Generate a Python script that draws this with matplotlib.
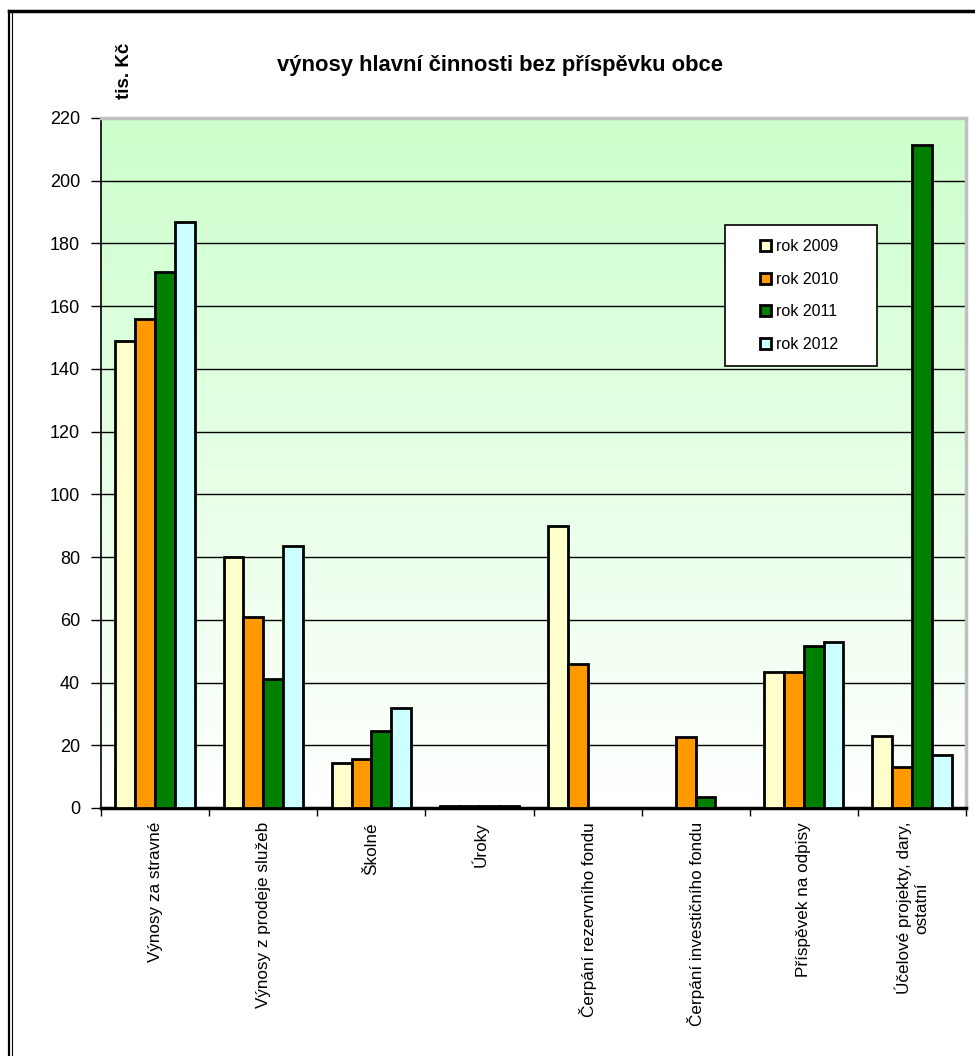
import matplotlib
matplotlib.use("Agg")
import matplotlib.pyplot as plt
import numpy as np
from matplotlib.lines import Line2D
from matplotlib.patches import Rectangle

CATEGORIES = ["Výnosy za stravné", "Výnosy z prodeje služeb", "Školné", "Úroky",
              "Čerpání rezervního fondu", "Čerpání investičního fondu",
              "Příspěvek na odpisy", "Účelové projekty, dary,\nostatní"]
YEARS = ["rok 2009", "rok 2010", "rok 2011", "rok 2012"]
ROK_2009 = [149, 80, 14.5, 0.5, 90, 0, 43.5, 23]
ROK_2010 = [156, 61, 15.5, 0.5, 46, 22.5, 43.5, 13]
ROK_2011 = [171, 41, 24.5, 0.5, 0, 3.5, 51.5, 211.5]
ROK_2012 = [187, 83.5, 32, 0.5, 0, 0, 53, 17]
COLORS = ["#ffffcc", "#ff9900", "#008000", "#ccffff"]

plt.rcParams.update({"font.family": ["Liberation Sans", "DejaVu Sans"]})

W, H = 975, 1056
fig = plt.figure(figsize=(W / 100, H / 100), dpi=100)
fig.patch.set_facecolor("white")
ax = fig.add_axes([101 / W, 1 - 808 / H, (966 - 101) / W, (808 - 118) / H])

ax.set_xlim(-0.5, len(CATEGORIES) - 0.5)
ax.set_ylim(0, 220)

# green-to-white plot background
grad = np.linspace(0, 1, 256).reshape(-1, 1)
top = np.array([0.80, 1.0, 0.80])
img = (1 - grad)[..., None] * np.ones(3) + grad[..., None] * top
ax.imshow(img, origin="lower", aspect="auto", extent=[-0.5, len(CATEGORIES) - 0.5, 0, 220],
          zorder=0, interpolation="bilinear")

ax.set_axisbelow(True)
ax.yaxis.grid(True, color="black", lw=1.0, zorder=1)

x = np.arange(len(CATEGORIES))
w = 0.183
series = [ROK_2009, ROK_2010, ROK_2011, ROK_2012]
for i, (vals, col, lab) in enumerate(zip(series, COLORS, YEARS)):
    ax.bar(x + (i - 1.5) * w, vals, w, color=col, edgecolor="black", lw=2.0,
           label=lab, zorder=3)

ax.set_yticks(np.arange(0, 221, 20))
ax.tick_params(axis="y", direction="out", length=7, width=1, labelsize=13, pad=8)

# category boundaries as ticks, names centred between them
ax.set_xticks(np.arange(-0.5, len(CATEGORIES)), labels=[""] * (len(CATEGORIES) + 1))
ax.set_xticks(x, labels=CATEGORIES, minor=True)
ax.tick_params(axis="x", which="major", direction="out", length=6, width=1)
ax.tick_params(axis="x", which="minor", length=0, labelsize=12.3, pad=10, labelrotation=90)
for t in ax.get_xticklabels(minor=True):
    t.set_va("top")
    t.set_ha("center")
    t.set_multialignment("center")

ax.spines["left"].set_color("black")
ax.spines["left"].set_linewidth(1.2)
ax.spines["bottom"].set_color("black")
ax.spines["bottom"].set_linewidth(2.5)
for sp in ("top", "right"):
    ax.spines[sp].set_color("#c0c0c0")
    ax.spines[sp].set_linewidth(2.5)

# legend box
bx0, by0 = (725 - 101) / 865, (808 - 366) / 690
bw, bh = 152 / 865, 141 / 690
ax.add_patch(Rectangle((bx0, by0), bw, bh, transform=ax.transAxes, facecolor="white",
                       edgecolor="black", lw=1.2, zorder=4.5))
leg = ax.legend(loc="center", bbox_to_anchor=(bx0 + bw / 2 - 0.002, by0 + bh / 2),
                frameon=False, fontsize=11.5, handlelength=0.7, handleheight=0.7,
                handletextpad=0.3, labelspacing=1.1)
leg.set_zorder(5)

fig.text(500 / W, 1 - 65 / H, "výnosy hlavní činnosti bez příspěvku obce",
         ha="center", va="center", fontsize=15.8, fontweight="bold")
fig.text(125 / W, 1 - 71 / H, "tis. Kč", rotation=90, ha="center", va="center",
         fontsize=13.5, fontweight="bold")

# outer chart frame
fig.add_artist(Line2D([9 / W, 1], [1 - 11 / H, 1 - 11 / H], color="black", lw=2.5))
fig.add_artist(Line2D([8.5 / W, 8.5 / W], [0, 1 - 11 / H], color="black", lw=1.6))
fig.add_artist(Line2D([11.5 / W, 11.5 / W], [0, 1 - 13 / H], color="black", lw=0.8))

fig.savefig("out.png", dpi=100, facecolor="white")
